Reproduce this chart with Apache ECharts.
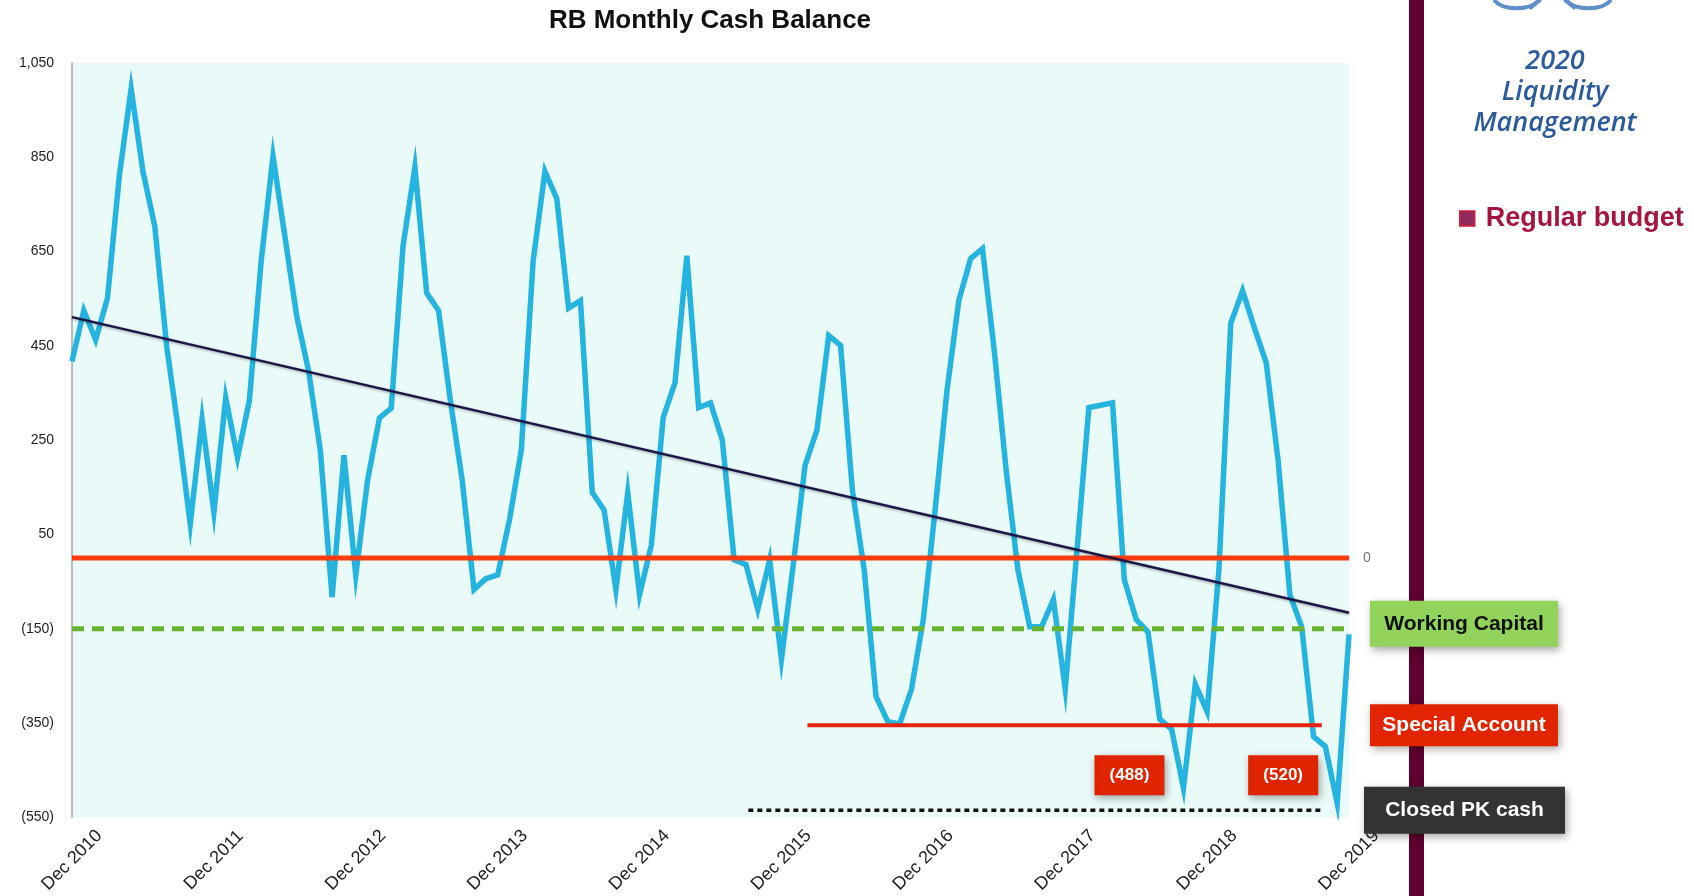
<!DOCTYPE html>
<html>
<head>
<meta charset="utf-8">
<script src="https://cdn.jsdelivr.net/npm/echarts@6/dist/echarts.min.js"></script>
<style>
html,body{margin:0;padding:0;background:#ffffff;}
#c{width:1694px;height:896px;}
</style>
</head>
<body>
<div id="c"></div>
<script>
// ---------- DATA ----------
const monthNames = ['Jan','Feb','Mar','Apr','May','Jun','Jul','Aug','Sep','Oct','Nov','Dec'];
const firstYear = 2010, firstMonth = 11, monthCount = 109; // Dec 2010 .. Dec 2019
const categories = [];
for (let k = 0; k < monthCount; k++) {
  const m = (firstMonth + k) % 12;
  const y = firstYear + Math.floor((firstMonth + k) / 12);
  categories.push(monthNames[m] + ' ' + y);
}

// Monthly cash balance (Regular budget)
const cashBalance = [
  417, 525, 463, 551, 810, 995, 820, 704, 451, 271,
  72, 294, 97, 340, 213, 334, 630, 852, 683, 514,
  398, 229, -83, 218, -36, 165, 297, 318, 662, 829,
  562, 525, 334, 165, -67, -44, -36, 81,
  229, 630, 820, 762, 530, 546, 139, 102, -67, 139,
  -78, 28, 298, 372, 641, 319, 329, 250, -4, -14,
  -109, -4, -215, -14, 197, 271, 472, 451, 144, -25,
  -294, -347, -352, -278, -130, 102,
  355, 546, 635, 656, 440, 187, -25, -146, -146, -88,
  -278, 18, 319, 324, 329, -46, -130, -157, -342, -363,
  -488, -268, -326, -25, 498, 567, 488, 414, 208, -78,
  -146, -379, -400, -520, -162
];

// Reference levels
const zeroLevel = 0;
const workingCapitalLevel = -150;
const specialAccountLevel = -355;
const closedPkLevel = -535;
// month-index spans of the partial reference lines
const specialAccountSpan = [62.2, 105.7];
const closedPkSpan = [57.2, 105.8];
// linear trend end values (first and last month)
const trendEnds = [511, -116];
// troughs that carry a value call-out
const labelledTroughs = [94, 107];

// Y axis ticks
const yTicks = [-550, -350, -150, 50, 250, 450, 650, 850, 1050];

// ---------- CHART ----------
const FONT = "'Liberation Sans', Arial, Helvetica, sans-serif";
function fmt(v) {
  const a = Math.abs(v).toLocaleString('en-US');
  return v < 0 ? '(' + a + ')' : a;
}
const lastIdx = monthCount - 1;

const chart = echarts.init(document.getElementById('c'), null, {renderer: 'canvas'});

const option = {
  backgroundColor: '#ffffff',
  animation: false,
  title: {
    text: 'RB Monthly Cash Balance',
    left: 710, top: 8, padding: 0, textAlign: 'center',
    textStyle: {fontFamily: FONT, fontSize: 26, fontWeight: 'bold', color: '#111111'}
  },
  legend: {
    left: 1459, top: 205, padding: 0,
    icon: 'rect', itemWidth: 15, itemHeight: 15,
    selectedMode: false,
    data: [{name: 'Regular budget', itemStyle: {color: '#8E2A5C', borderColor: '#D41F35', borderWidth: 1.5}}],
    textStyle: {fontFamily: FONT, fontSize: 27, fontWeight: 'bold', color: '#A5163F', padding: [0, 0, 0, 6]}
  },
  grid: {
    left: 72, right: 345, top: 63, bottom: 74,
    show: true, backgroundColor: '#E9FAF8', borderWidth: 0
  },
  xAxis: [
    {
      type: 'category', data: categories, boundaryGap: false,
      axisLine: {lineStyle: {color: '#A6A6A6', width: 1.5}},
      axisTick: {show: false},
      splitLine: {show: false},
      axisLabel: {
        interval: 11, rotate: 45, align: 'center', verticalAlign: 'middle', margin: 43,
        fontFamily: FONT, fontSize: 18, color: '#222222'
      }
    },
    {type: 'value', min: 0, max: lastIdx, show: false}
  ],
  yAxis: {
    type: 'value', min: yTicks[0], max: yTicks[yTicks.length - 1], interval: 200,
    axisLine: {show: true, lineStyle: {color: '#A6A6A6', width: 1.5}},
    axisTick: {show: false},
    splitLine: {show: false},
    axisLabel: {formatter: v => fmt(v), fontFamily: FONT, fontSize: 14, color: '#222222', margin: 18}
  },
  series: [
    {
      name: 'Regular budget', type: 'line', xAxisIndex: 0, data: cashBalance,
      symbol: 'none', z: 2,
      lineStyle: {color: '#25B3DF', width: 5.5, join: 'miter'},
      itemStyle: {color: '#25B3DF'}
    },
    {
      name: 'Zero', type: 'line', xAxisIndex: 1, symbol: 'none', z: 4,
      data: [[0, zeroLevel], [lastIdx, zeroLevel]],
      lineStyle: {color: '#FF3B10', width: 5},
      endLabel: {show: true, formatter: () => String(zeroLevel), distance: 14, fontFamily: FONT, fontSize: 14, color: '#777777'}
    },
    {
      name: 'Working Capital', type: 'line', xAxisIndex: 1, symbol: 'none', z: 4,
      data: [[0, workingCapitalLevel], [lastIdx, workingCapitalLevel]],
      lineStyle: {color: '#67B330', width: 5, type: [12, 8], cap: 'butt'}
    },
    {
      name: 'Special Account', type: 'line', xAxisIndex: 1, symbol: 'none', z: 4,
      data: [[specialAccountSpan[0], specialAccountLevel], [specialAccountSpan[1], specialAccountLevel]],
      lineStyle: {color: '#E6230E', width: 4}
    },
    {
      name: 'Closed PK cash', type: 'line', xAxisIndex: 1, symbol: 'none', z: 4,
      data: [[closedPkSpan[0], closedPkLevel], [closedPkSpan[1], closedPkLevel]],
      lineStyle: {color: '#111111', width: 3.5, type: [5, 4], cap: 'butt'}
    },
    {
      name: 'Trend', type: 'line', xAxisIndex: 1, symbol: 'none', z: 5,
      data: [[0, trendEnds[0]], [lastIdx, trendEnds[1]]],
      lineStyle: {color: '#1C1648', width: 2.5, shadowBlur: 3, shadowColor: 'rgba(0,0,0,0.35)', shadowOffsetY: 1}
    }
  ]
};
chart.setOption(option);

// ---------- ANNOTATIONS (positioned through the chart's own scales) ----------
const yPix = v => chart.convertToPixel({yAxisIndex: 0}, v);
const xPix = i => chart.convertToPixel({xAxisIndex: 1}, i);
const shadow = {shadowBlur: 8, shadowOffsetX: 2, shadowOffsetY: 3, shadowColor: 'rgba(0,0,0,0.35)'};

function box(x, cy, w, h, fill, text, color, size) {
  return [
    {type: 'rect', z: 50, shape: {x: x, y: cy - h / 2, width: w, height: h}, style: Object.assign({fill: fill}, shadow)},
    {type: 'text', z: 51, x: x + w / 2, y: cy, style: {text: text, fill: color, fontFamily: FONT, fontSize: size, fontWeight: 'bold', align: 'center', verticalAlign: 'middle'}}
  ];
}

const plotRight = xPix(lastIdx);
const BLUE = '#2C5B9C';
const graphics = [
  // maroon divider
  {type: 'rect', z: 10, shape: {x: 1409, y: 0, width: 15, height: 896}, style: {fill: '#5E0030'}},
  // partial emblem at the top
  {type: 'bezierCurve', z: 10, shape: {x1: 1494, y1: 0, cpx1: 1503, cpy1: 11, cpx2: 1530, cpy2: 11, x2: 1539, y2: 0}, style: {stroke: '#5E8FCB', lineWidth: 4, fill: null}},
  {type: 'bezierCurve', z: 10, shape: {x1: 1566, y1: 0, cpx1: 1575, cpy1: 11, cpx2: 1602, cpy2: 11, x2: 1611, y2: 0}, style: {stroke: '#5E8FCB', lineWidth: 4, fill: null}},
  {type: 'line', z: 10, shape: {x1: 1530, y1: 9, x2: 1541, y2: 0}, style: {stroke: '#5E8FCB', lineWidth: 2.5}},
  {type: 'line', z: 10, shape: {x1: 1575, y1: 9, x2: 1564, y2: 0}, style: {stroke: '#5E8FCB', lineWidth: 2.5}},
  // 2020 Liquidity Management
  {type: 'text', z: 10, x: 1555, y: 61, style: {text: '2020', fill: BLUE, fontFamily: "'Open Sans', sans-serif", fontStyle: 'italic', fontWeight: 600, fontSize: 27, align: 'center', verticalAlign: 'middle'}},
  {type: 'text', z: 10, x: 1555, y: 92, style: {text: 'Liquidity', fill: BLUE, fontFamily: "'Open Sans', sans-serif", fontStyle: 'italic', fontWeight: 600, fontSize: 27, align: 'center', verticalAlign: 'middle'}},
  {type: 'text', z: 10, x: 1555, y: 123, style: {text: 'Management', fill: BLUE, fontFamily: "'Open Sans', sans-serif", fontStyle: 'italic', fontWeight: 600, fontSize: 27, align: 'center', verticalAlign: 'middle'}}
];
// reference-line boxes
graphics.push(...box(plotRight + 21, yPix(workingCapitalLevel) - 5, 188, 46, '#92D35C', 'Working Capital', '#111111', 21));
graphics.push(...box(plotRight + 21, yPix(specialAccountLevel), 188, 42, '#E32400', 'Special Account', '#ffffff', 21));
graphics.push(...box(plotRight + 15, yPix(closedPkLevel), 201, 47, '#333333', 'Closed PK cash', '#ffffff', 21));
// trough call-outs
labelledTroughs.forEach(function (idx) {
  const w = 70, h = 40;
  const cx = xPix(idx) - 54;
  graphics.push(...box(cx - w / 2, yPix(closedPkLevel) - 35, w, h, '#E02400', fmt(cashBalance[idx]), '#ffffff', 17));
});
chart.setOption({graphic: graphics});
</script>
</body>
</html>
